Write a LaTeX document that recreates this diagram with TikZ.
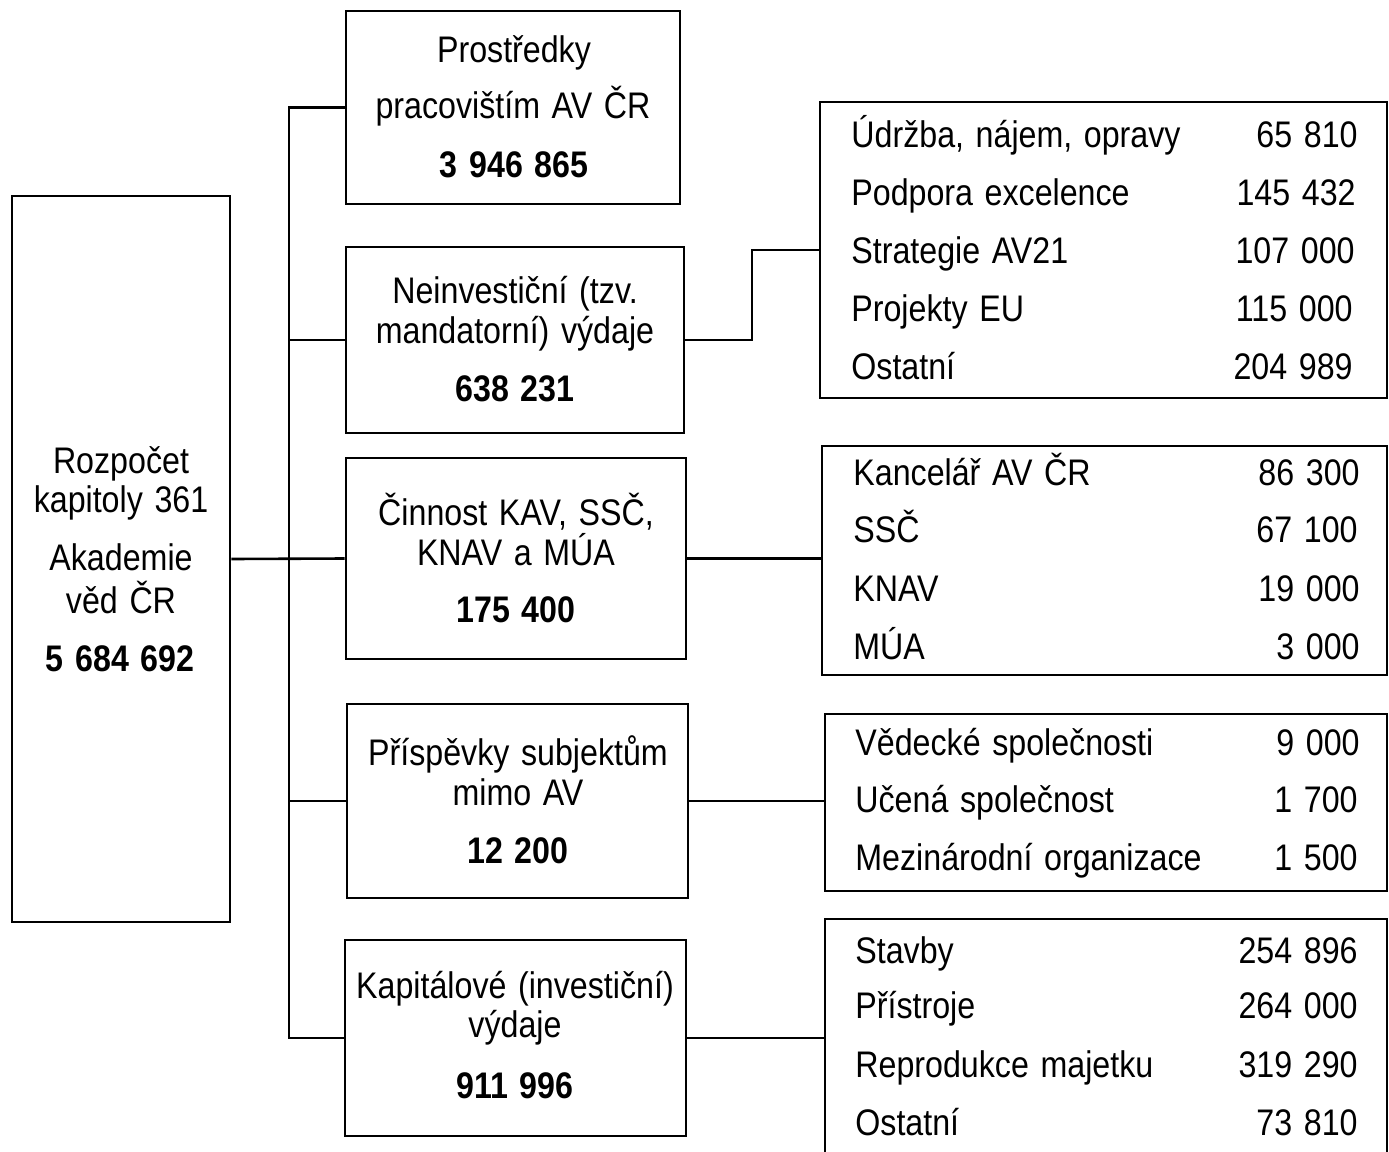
\documentclass[tikz,border=0pt]{standalone}
\usepackage{fontspec}
\setmainfont{Liberation Sans}[FakeStretch=0.87, WordSpace=1.3]
\usetikzlibrary{fit}
\begin{document}
\begin{tikzpicture}[x=0.5pt,y=-0.5pt,
  box/.style={draw, line width=1.4pt, inner sep=0pt},
  wire/.style={line width=1.3pt},
  txt/.style={anchor=base, inner sep=0pt, font=\fontsize{18.5}{22}\selectfont},
  num/.style={anchor=base, inner sep=0pt, font=\fontsize{18.5}{22}\selectfont\bfseries},
  lab/.style={anchor=base west, inner sep=0pt, font=\fontsize{18.5}{22}\selectfont},
  val/.style={anchor=base east, inner sep=0pt, font=\fontsize{18.5}{22}\selectfont}]
\useasboundingbox (0,0) rectangle (1389,1152);

% boxes
\node[box, fit={(12,196)(230,922)}] (root) {};
\node[box, fit={(346,11)(680,204)}] (p1) {};
\node[box, fit={(346,247)(684,433)}] (p2) {};
\node[box, fit={(346,458)(686,659)}] (p3) {};
\node[box, fit={(347,704)(688,898)}] (p4) {};
\node[box, fit={(345,940)(686,1136)}] (p5) {};
\node[box, fit={(820,102)(1387,398)}] (r1) {};
\node[box, fit={(822,446)(1387,675)}] (r2) {};
\node[box, fit={(825,714)(1387,891)}] (r3) {};
\node[box, fit={(825,919)(1387,1170)}] (r4) {};

% connectors
\coordinate (bus) at (289,0);
\coordinate (elbow) at (752,0);
\draw[wire] (p1.west) -- (p1.west -| bus) -- (p5.west -| bus) -- (p5.west);
\draw[wire] (p2.west -| bus) -- (p2.west);
\draw[wire] (p4.west -| bus) -- (p4.west);
\draw[wire] (root.east) -- (p3.west);
\draw[wire] (p2.east) -- (p2.east -| elbow) |- (r1.west);
\draw[wire] (p3.east) -- (p3.east -| r2.west);
\draw[wire] (p4.east) -- (p4.east -| r3.west);
\draw[wire] (p5.east) -- (p5.east -| r4.west);

% root text
\node[txt] (t0a) at (121,473) {Rozpočet};
\node[txt] (t0b) at (121,512) {kapitoly 361};
\node[txt] (t0c) at (121,570) {Akademie};
\node[txt] (t0d) at (121,613) {věd ČR};
\node[num] (t0e) at (120,671) {5 684 692};

% middle texts
\node[txt] (t1a) at (514,62) {Prostředky};
\node[txt] (t1b) at (513,118) {pracovištím AV ČR};
\node[num] (t1c) at (514,177) {3 946 865};

\node[txt] (t2a) at (515,303) {Neinvestiční (tzv.};
\node[txt] (t2b) at (515,343) {mandatorní) výdaje};
\node[num] (t2c) at (515,401) {638 231};

\node[txt] (t3a) at (516,525) {Činnost KAV, SSČ,};
\node[txt] (t3b) at (516,565) {KNAV a MÚA};
\node[num] (t3c) at (516,622) {175 400};

\node[txt] (t4a) at (518,765) {Příspěvky subjektům};
\node[txt] (t4b) at (518,805) {mimo AV};
\node[num] (t4c) at (518,863) {12 200};

\node[txt] (t5a) at (515,998) {Kapitálové (investiční)};
\node[txt] (t5b) at (515,1037) {výdaje};
\node[num] (t5c) at (515,1098) {911 996};

% right box 1
\node[lab] (a1) at (851,147) {Údržba, nájem, opravy};
\node[val] (b1) at (1358,147) {65 810};
\node[lab] (a2) at (851,205) {Podpora excelence};
\node[val] (b2) at (1356,205) {145 432};
\node[lab] (a3) at (851,263) {Strategie AV21};
\node[val] (b3) at (1355,263) {107 000};
\node[lab] (a4) at (851,321) {Projekty EU};
\node[val] (b4) at (1353,321) {115 000};
\node[lab] (a5) at (851,379) {Ostatní};
\node[val] (b5) at (1353,379) {204 989};

% right box 2
\node[lab] (c1) at (853,485) {Kancelář AV ČR};
\node[val] (d1) at (1360,485) {86 300};
\node[lab] (c2) at (853,542) {SSČ};
\node[val] (d2) at (1358,542) {67 100};
\node[lab] (c3) at (853,601) {KNAV};
\node[val] (d3) at (1360,601) {19 000};
\node[lab] (c4) at (853,659) {MÚA};
\node[val] (d4) at (1360,659) {3 000};

% right box 3
\node[lab] (e1) at (855,755) {Vědecké společnosti};
\node[val] (f1) at (1360,755) {9 000};
\node[lab] (e2) at (855,812) {Učená společnost};
\node[val] (f2) at (1358,812) {1 700};
\node[lab] (e3) at (855,870) {Mezinárodní organizace};
\node[val] (f3) at (1358,870) {1 500};

% right box 4
\node[lab] (g1) at (855,963) {Stavby};
\node[val] (h1) at (1358,963) {254 896};
\node[lab] (g2) at (855,1018) {Přístroje};
\node[val] (h2) at (1358,1018) {264 000};
\node[lab] (g3) at (855,1077) {Reprodukce majetku};
\node[val] (h3) at (1358,1077) {319 290};
\node[lab] (g4) at (855,1135) {Ostatní};
\node[val] (h4) at (1358,1135) {73 810};
\end{tikzpicture}
\end{document}
